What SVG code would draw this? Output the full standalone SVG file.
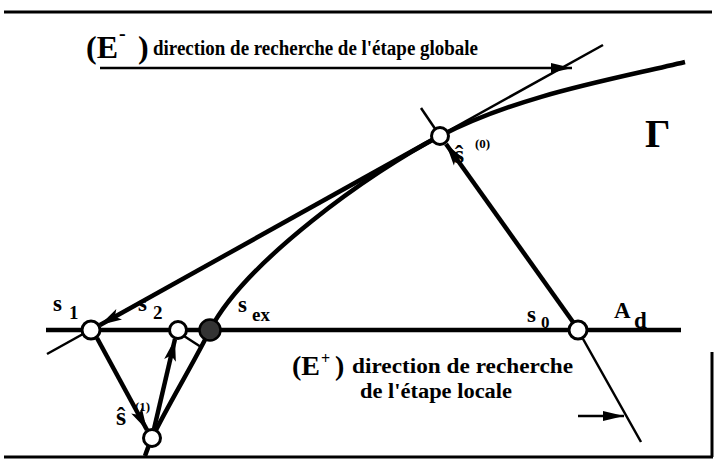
<svg xmlns="http://www.w3.org/2000/svg" width="719" height="467" viewBox="0 0 719 467">
<style>
text{font-family:"Liberation Serif","Times New Roman",serif;font-weight:bold;fill:#000}
.thin{stroke:#000;stroke-width:2.5;fill:none}
.thick{stroke:#000;stroke-width:4.5;fill:none}
.pt{fill:#fff;stroke:#000;stroke-width:3}
.frame{stroke:#000;stroke-width:3;fill:none}
</style>
<defs>
<marker id="ah" markerUnits="userSpaceOnUse" markerWidth="24" markerHeight="14" viewBox="0 0 24 14" refX="22" refY="7" orient="auto">
<path d="M0,1 L22,7 L0,13 L5,7 Z" fill="#000"/>
</marker>
<marker id="ahs" markerUnits="userSpaceOnUse" markerWidth="22" markerHeight="12" viewBox="0 0 22 12" refX="21" refY="6" orient="auto">
<path d="M0,1 L21,6 L0,11 Z" fill="#000"/>
</marker>
</defs>
<g id="frame">
<line class="frame" x1="4" y1="12" x2="712" y2="12"/>
<line class="frame" x1="4" y1="457" x2="713" y2="457" stroke-width="2.5"/>
<line class="frame" x1="712" y1="352" x2="712" y2="457" stroke-width="2.5"/>
</g>
<g id="connectors">
<line class="thin" x1="100" y1="68" x2="572" y2="68" stroke-width="2" marker-end="url(#ahs)"/>
<line class="thin" x1="603" y1="45" x2="47" y2="354"/>
<path id="gamma-curve" class="thick" d="M685,62 C610,80 520,95 440,136 C370,172 245,262 210,330 C192,366 168,405 152,438 C149,445 147,450 145,456"/>
<line class="thick" x1="432" y1="140" x2="100" y2="325" marker-end="url(#ah)"/>
<line class="thin" x1="421" y1="108" x2="440" y2="136"/>
<line class="thick" x1="573" y1="322" x2="446" y2="144" stroke-width="4" marker-end="url(#ah)"/>
<line class="thin" x1="578" y1="330" x2="641" y2="442"/>
<line class="thin" x1="578" y1="416" x2="624" y2="416" stroke-width="2" marker-end="url(#ahs)"/>
<line class="thick" x1="46" y1="330" x2="681" y2="330" stroke-width="5"/>
<line class="thick" x1="97" y1="338" x2="147" y2="430" stroke-width="4" marker-end="url(#ah)"/>
<line class="thick" x1="154" y1="429" x2="175" y2="339" stroke-width="4" marker-end="url(#ah)"/>
<line class="thin" x1="184" y1="336" x2="201" y2="347"/>
</g>
<g id="label-Eminus">
<text x="86" y="58" font-size="32">(E<tspan x="119" y="40" font-size="20">-</tspan><tspan x="138" y="58">)</tspan></text>
<text x="153" y="55" font-size="20" textLength="325" lengthAdjust="spacingAndGlyphs">direction de recherche de l'étape globale</text>
</g>
<g id="label-Eplus">
<text x="292" y="375" font-size="28">(E<tspan x="321" y="364" font-size="16">+</tspan><tspan x="335" y="375">)</tspan></text>
<text x="352" y="373" font-size="20" textLength="221" lengthAdjust="spacingAndGlyphs">direction de recherche</text>
<text x="360" y="398" font-size="20" textLength="152" lengthAdjust="spacingAndGlyphs">de l'étape locale</text>
</g>
<g id="gamma">
<text x="645" y="147" font-size="40">Γ</text>
</g>
<g id="Ad">
<text x="614" y="318" font-size="23">A<tspan x="634" y="328">d</tspan></text>
</g>
<g id="s-hat-0">
<circle class="pt" cx="440" cy="136" r="8.5"/>
<text x="454" y="163" font-size="26">ŝ<tspan x="475" y="148" font-size="13">(0)</tspan></text>
</g>
<g id="s0">
<circle class="pt" cx="578" cy="330" r="9"/>
<text x="527" y="322" font-size="23">s<tspan x="541" y="328" font-size="17">0</tspan></text>
</g>
<g id="s1">
<circle class="pt" cx="91" cy="330" r="9"/>
<text x="53" y="311" font-size="23">s<tspan x="69" y="319" font-size="19">1</tspan></text>
</g>
<g id="s2">
<circle class="pt" cx="178" cy="330" r="8.5"/>
<text x="138" y="311" font-size="23">s<tspan x="153" y="319" font-size="19">2</tspan></text>
</g>
<g id="sex">
<circle cx="210" cy="330" r="10.5" fill="#333" stroke="#000" stroke-width="2.5"/>
<text x="238" y="312" font-size="23">s<tspan x="252" y="321" font-size="19">ex</tspan></text>
</g>
<g id="s-hat-1">
<circle class="pt" cx="152" cy="438" r="8.5"/>
<text x="116" y="425" font-size="26">ŝ<tspan x="135" y="411" font-size="13">(1)</tspan></text>
</g>
</svg>
